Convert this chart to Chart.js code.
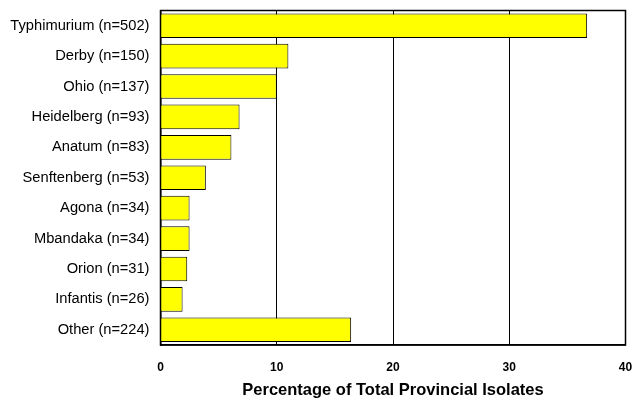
<!DOCTYPE html>
<html>
<head>
<meta charset="utf-8">
<script src="https://cdn.jsdelivr.net/npm/chart.js@4"></script>
<style>
html,body{margin:0;padding:0;background:#fff;}
#wrap{width:635px;height:400px;}
</style>
</head>
<body>
<div id="wrap"><canvas id="c" width="635" height="400"></canvas></div>
<script>
const categories = ["Typhimurium (n=502)","Derby (n=150)","Ohio (n=137)","Heidelberg (n=93)","Anatum (n=83)","Senftenberg (n=53)","Agona (n=34)","Mbandaka (n=34)","Orion (n=31)","Infantis (n=26)","Other (n=224)"];
const percentages = [36.7, 11.0, 10.0, 6.8, 6.1, 3.9, 2.5, 2.5, 2.3, 1.9, 16.4];
const xTicks = [0, 10, 20, 30, 40];
const xTitle = "Percentage of Total Provincial Isolates";

const frame = {
  id: 'frame',
  afterDatasetsDraw(chart) {
    const a = chart.chartArea, ctx = chart.ctx;
    ctx.save();
    ctx.strokeStyle = '#000';
    ctx.lineWidth = 1.5;
    ctx.strokeRect(a.left, a.top, a.right - a.left, a.bottom - a.top);
    ctx.restore();
  }
};

const FONT = 'Liberation Sans, Arial, sans-serif';

new Chart(document.getElementById('c'), {
  type: 'bar',
  data: {
    labels: categories,
    datasets: [{
      data: percentages,
      backgroundColor: '#FFFF00',
      borderColor: '#000',
      borderWidth: 1,
      categoryPercentage: 0.81,
      barPercentage: 1.0
    }]
  },
  options: {
    indexAxis: 'y',
    responsive: false,
    devicePixelRatio: 1,
    animation: false,
    layout: { padding: { top: 10.5, right: 9.5, bottom: 0, left: 0 } },
    plugins: { legend: { display: false }, tooltip: { enabled: false } },
    scales: {
      x: {
        min: 0, max: 40,
        afterBuildTicks(s) { s.ticks = xTicks.map(v => ({ value: v })); },
        afterFit(s) { s.height = 55; s.paddingLeft = 0; s.paddingRight = 0; },
        grid: {
          drawTicks: false,
          color: (c) => (c.tick && c.tick.value > 0 && c.tick.value < 40) ? '#000' : 'rgba(0,0,0,0)',
          lineWidth: 1
        },
        border: { display: true, color: '#000', width: 1.5 },
        ticks: {
          color: '#000',
          font: { family: FONT, size: 12, weight: 'bold' },
          padding: 15,
          maxRotation: 0
        },
        title: {
          display: true,
          text: xTitle,
          color: '#000',
          font: { family: FONT, size: 16.5, weight: 'bold' },
          padding: { top: 0, bottom: 0 }
        }
      },
      y: {
        afterFit(s) { s.width = 160.5; s.paddingTop = 0; s.paddingBottom = 0; },
        grid: { display: false, drawTicks: false },
        border: { display: true, color: '#000', width: 1.5 },
        ticks: {
          color: '#000',
          font: { family: FONT, size: 14.7 },
          padding: 11,
          autoSkip: false
        }
      }
    }
  },
  plugins: [frame]
});
</script>
</body>
</html>
